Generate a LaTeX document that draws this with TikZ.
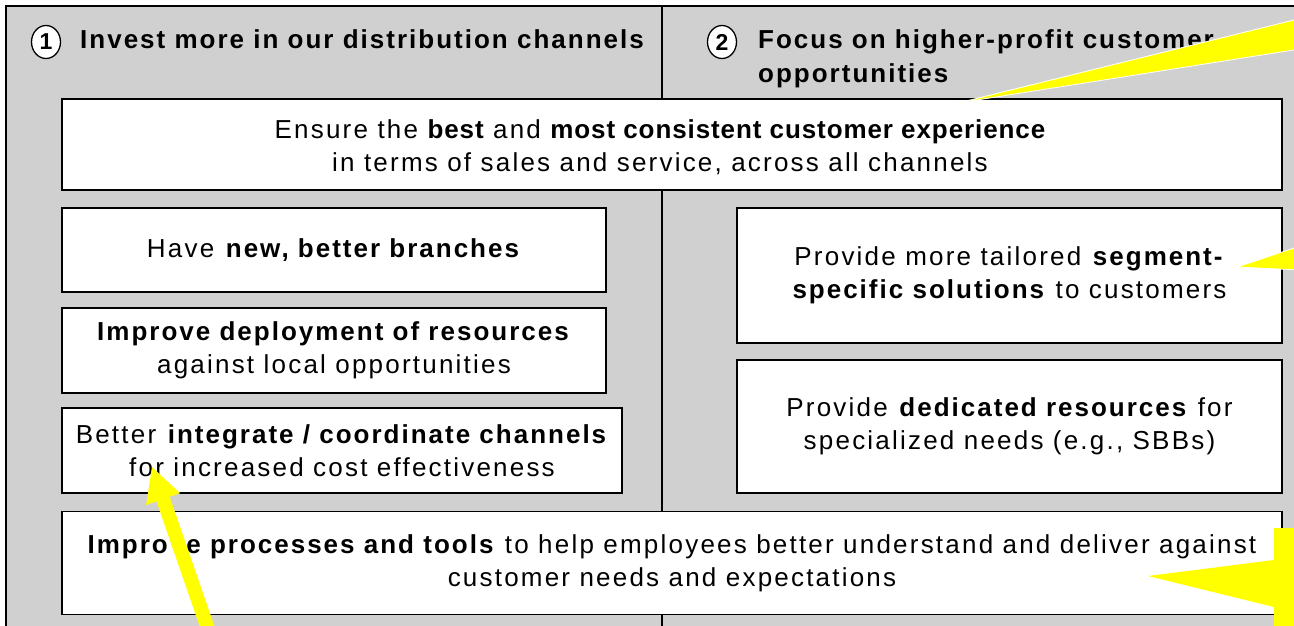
\documentclass[tikz,border=0pt]{standalone}
\usepackage{fontspec}
\setmainfont{Liberation Sans}[LetterSpace=8.5, BoldFeatures={LetterSpace=7.7}]
\newfontfamily\tightboldfont{Liberation Sans Bold}[LetterSpace=3.5]
\usetikzlibrary{shapes.geometric}
\definecolor{panelgray}{RGB}{208,208,208}
\definecolor{callyellow}{RGB}{255,255,0}
\newcommand\bodysz{\fontsize{26}{33}\selectfont}
\newcommand\tightbf[1]{{\tightboldfont #1}}
\tikzset{
  box/.style={draw=black, fill=white, line width=1.5pt, align=center, inner sep=0pt, font=\bodysz},
  txt/.style={align=center, inner sep=0pt, font=\bodysz},
  numcirc/.style={ellipse, draw=black, fill=white, line width=1.3pt, minimum width=29pt, minimum height=33pt, inner sep=0pt, font=\bfseries\fontsize{23}{23}\selectfont},
  head/.style={anchor=base west, inner sep=0pt, font=\bfseries\fontsize{26}{33}\selectfont},
  callout/.style={fill=callyellow, draw=white, line width=0.8pt},
  arrowfill/.style={fill=callyellow},
}
\begin{document}
\begin{tikzpicture}[x=1pt,y=-1pt]
\useasboundingbox (0,0) rectangle (1294,626);
\clip (0,0) rectangle (1294,626);
% background panel
\fill[panelgray] (6,6) rectangle (1310,640);
\draw[line width=1.5pt] (6,640) -- (6,6) -- (1310,6);
\draw[line width=1.5pt] (662,6) -- (662,640);
% headers
\node[numcirc] (c1) at (46,42) {1};
\node[head] (h1) at (80,49) {Invest more in our distribution channels};
\node[numcirc] (c2) at (722,42) {2};
\node[head] (h2a) at (758,49) {Focus on higher-profit customer};
\node[head] (h2b) at (758,82) {opportunities};
% boxes
\node[box, minimum width=1220pt, minimum height=91pt] (ensure) at (672,144.5) {};
\node[txt] (ensuretxt) at (660,147) {Ensure the \tightbf{best} and \tightbf{most consistent customer experience}\\in terms of sales and service, across all channels};
\node[box, minimum width=544pt, minimum height=84pt] (branches) at (334,250) {Have \textbf{new, better branches}};
\node[box, minimum width=544pt, minimum height=85pt] (deploy) at (334,350.5) {\textbf{Improve deployment of resources}\\against local opportunities};
\node[box, minimum width=560pt, minimum height=85pt] (integrate) at (342,450.5) {Better \textbf{integrate / coordinate channels}\\for increased cost effectiveness};
\node[box, minimum width=545pt, minimum height=135pt] (tailored) at (1009.5,275.5) {Provide more tailored \textbf{segment-}\\\textbf{specific solutions} to customers};
\node[box, minimum width=545pt, minimum height=133pt] (dedicated) at (1009.5,426.5) {Provide \textbf{dedicated resources} for\\specialized needs (e.g., SBBs)};
\node[box, minimum width=1220pt, minimum height=103pt] (processes) at (672,563) {\textbf{Improve processes and tools} to help employees better understand and deliver against\\customer needs and expectations};
% yellow callouts
\filldraw[callout] (958,103) -- (1300,18.5) -- (1300,49) -- cycle;
\filldraw[callout] (1237,267) -- (1300,246) -- (1300,270) -- cycle;
\fill[arrowfill] (1274,528) -- (1300,528) -- (1300,640) -- (1274,640) -- (1274,607) -- (1148,576) -- (1274,560) -- cycle;
\fill[arrowfill] (152,467) -- (180.1,493.2) -- (169.7,496.8) -- (218.4,637.7) -- (205.2,642.3) -- (156.5,501.4) -- (146.1,505.0) -- cycle;
\end{tikzpicture}
\end{document}
